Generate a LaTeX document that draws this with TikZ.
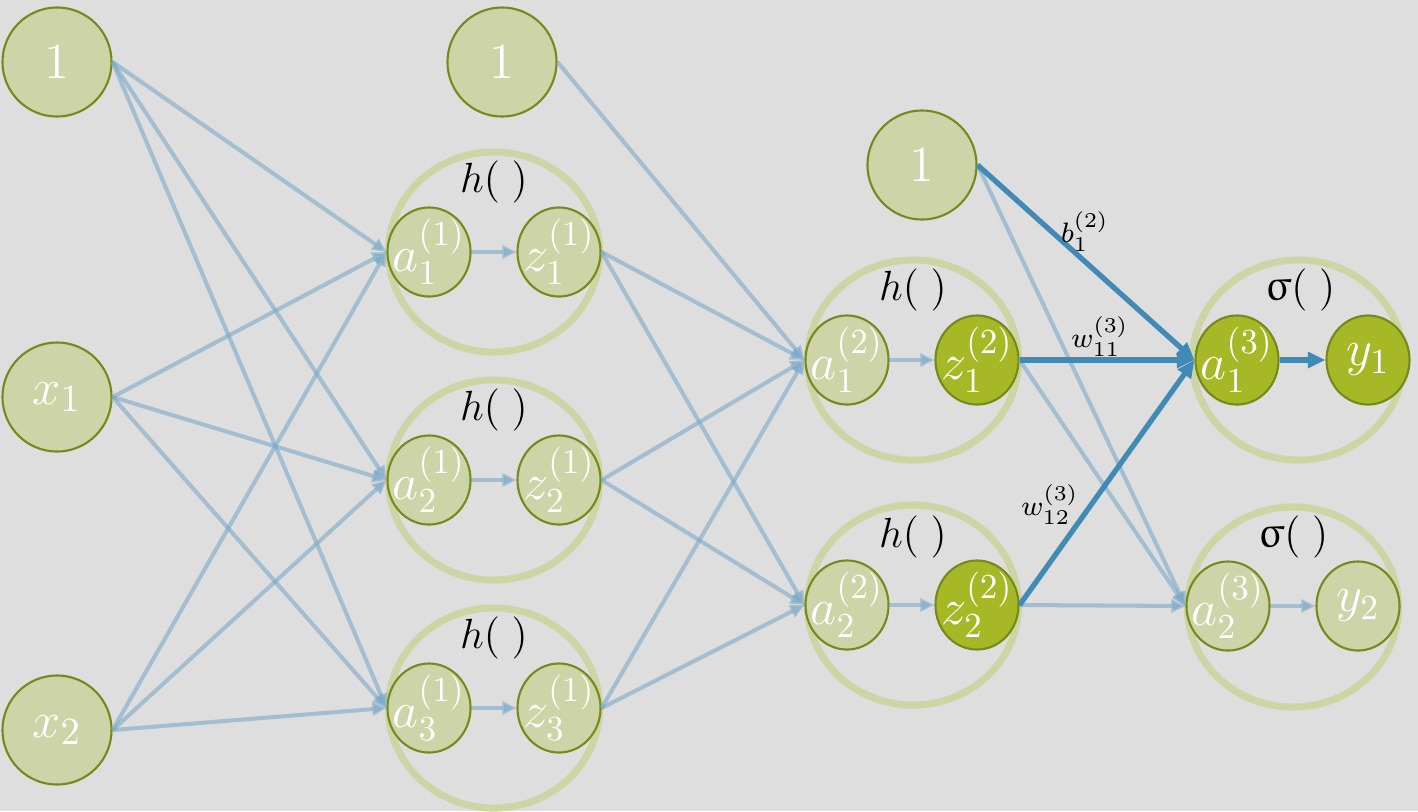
\documentclass[tikz,border=0pt]{standalone}
\usepackage{amsmath, amssymb}
\usepackage{upgreek}
\usepackage{xcolor}
\usetikzlibrary{shapes.geometric, arrows.meta}

\definecolor{bggray}{HTML}{DEDEDE}
\definecolor{unitfill}{HTML}{CDD4A8}
\definecolor{unitline}{HTML}{76891A}
\definecolor{unitdark}{HTML}{A7B826}
\definecolor{ringcol}{HTML}{CDD5A5}
\definecolor{edgelight}{HTML}{7AA9C8}
\definecolor{edgedark}{HTML}{418AB6}

\tikzset{
  innode/.style={circle, draw=unitline, line width=0.6pt, fill=unitfill, minimum size=1.09cm, inner sep=0pt, text=white, font=\fontsize{15}{17}\selectfont},
  unit/.style={ellipse, draw=unitline, line width=0.6pt, fill=unitfill, minimum width=0.83cm, minimum height=0.89cm, inner sep=0pt},
  unitact/.style={unit, fill=unitdark},
  ring/.style={ellipse, draw=ringcol, line width=2pt, minimum width=2.11cm, minimum height=2.0cm, inner sep=0pt},
  utext/.style={text=white, inner sep=0pt, font=\fontsize{14}{16}\selectfont},
  fname/.style={font=\fontsize{12.5}{14}\selectfont},
  wname/.style={font=\fontsize{8.5}{10}\selectfont},
  edge/.style={draw=edgelight, opacity=0.6, line width=1.15pt, -{Triangle[length=4pt,width=3.6pt]}},
  edgehi/.style={draw=edgedark, line width=1.5pt, -{Triangle[length=5pt,width=4.4pt]}},
}

\begin{document}
\begin{tikzpicture}[x=0.01cm, y=-0.01cm]
            \fill[bggray] (0,0) rectangle (1418,811);
            \useasboundingbox (0,0) rectangle (1418,811);

            % rings round each unit
            \node[ring] (r11) at (494,252) {};
            \node[ring] (r12) at (494,480) {};
            \node[ring] (r13) at (494,708) {};
            \node[ring] (r21) at (913,360) {};
            \node[ring] (r22) at (913,605) {};
            \node[ring] (r31) at (1298,360) {};
            \node[ring] (r32) at (1293,607) {};

            \node[fname] (h11) at (494,182) {$h(\;)$};
            \node[fname] (h12) at (494,410) {$h(\;)$};
            \node[fname] (h13) at (494,638) {$h(\;)$};
            \node[fname] (h21) at (913,290) {$h(\;)$};
            \node[fname] (h22) at (913,537) {$h(\;)$};
            \node[fname] (s31) at (1300,290) {$\upsigma(\;)$};
            \node[fname] (s32) at (1293,537) {$\upsigma(\;)$};

            % inputs and biases
            \node[innode] (b1) at (57,62) {$1$};
            \node[innode] (x1) at (57,397) {$x_1$};
            \node[innode] (x2) at (57,730) {$x_2$};
            \node[innode] (b2) at (502,62) {$1$};
            \node[innode] (b3) at (922,165) {$1$};

            % layer 1
            \node[unit] (a11) at (429,252) [label={[utext]center:$a_1^{(1)}$}] {};
            \node[unit] (z11) at (559,252) [label={[utext]center:$z_1^{(1)}$}] {};
            \node[unit] (a12) at (429,480) [label={[utext]center:$a_2^{(1)}$}] {};
            \node[unit] (z12) at (559,480) [label={[utext]center:$z_2^{(1)}$}] {};
            \node[unit] (a13) at (429,708) [label={[utext]center:$a_3^{(1)}$}] {};
            \node[unit] (z13) at (559,708) [label={[utext]center:$z_3^{(1)}$}] {};

            % layer 2
            \node[unit] (a21) at (847,360) [label={[utext]center:$a_1^{(2)}$}] {};
            \node[unitact] (z21) at (977,360) [label={[utext]center:$z_1^{(2)}$}] {};
            \node[unit] (a22) at (847,605) [label={[utext]center:$a_2^{(2)}$}] {};
            \node[unitact] (z22) at (977,605) [label={[utext]center:$z_2^{(2)}$}] {};

            % layer 3
            \node[unitact] (a31) at (1237,360) [label={[utext]center:$a_1^{(3)}$}] {};
            \node[unitact] (y1) at (1368,360) [label={[utext]center:$y_1$}] {};
            \node[unit] (a32) at (1228,606) [label={[utext]center:$a_2^{(3)}$}] {};
            \node[unit] (y2) at (1358,606) [label={[utext]center:$y_2$}] {};

            \draw[edge] (b1.east) -- (a11.west); % 1-a1
            \draw[edge] (b1.east) -- (a12.west); % 1-a2
            \draw[edge] (b1.east) -- (a13.west); % 1-a3
            \draw[edge] (x1.east) -- (a11.west); % x1-a1
            \draw[edge] (x1.east) -- (a12.west); % x1-a2
            \draw[edge] (x1.east) -- (a13.west); % x1-a3
            \draw[edge] (x2.east) -- (a11.west); % x2-a1
            \draw[edge] (x2.east) -- (a12.west); % x2-a2
            \draw[edge] (x2.east) -- (a13.west); % x2-a3

            \draw[edge] (a11.east) -- (z11.west); % a-z
            \draw[edge] (a12.east) -- (z12.west); % a-z
            \draw[edge] (a13.east) -- (z13.west); % a-z

            \draw[edge] (b2.east) -- (a21.west); % 1-a1
            \draw[edge] (z11.east) -- (a21.west); % z1-a1
            \draw[edge] (z11.east) -- (a22.west); % z1-a2
            \draw[edge] (z12.east) -- (a21.west); % z2-a1
            \draw[edge] (z12.east) -- (a22.west); % z2-a2
            \draw[edge] (z13.east) -- (a21.west); % z3-a1
            \draw[edge] (z13.east) -- (a22.west); % z3-a2

            \draw[edge] (a21.east) -- (z21.west); % a-z
            \draw[edge] (a22.east) -- (z22.west); % a-z

            \draw[edge] (b3.east) -- (a32.west); % 1-a2
            \draw[edge] (z21.east) -- (a32.west); % z1-a2
            \draw[edge] (z22.east) -- (a32.west); % z2-a2
            \draw[edge] (a32.east) -- (y2.west); % a-y

            \draw[edgehi] (b3.east) -- (a31.west); % 1-a1
            \draw[edgehi] (z21.east) -- (a31.west); % z1-a1
            \draw[edgehi] (z22.east) -- (a31.west); % z2-a1
            \draw[edgehi] (a31.east) -- (y1.west); % a-y

            \node[wname] (wb) at (1085,232) {$b_1^{(2)}$};
            \node[wname] (w11) at (1100,337) {$w_{11}^{(3)}$};
            \node[wname] (w12) at (1050,505) {$w_{12}^{(3)}$};
        \end{tikzpicture}
\end{document}
